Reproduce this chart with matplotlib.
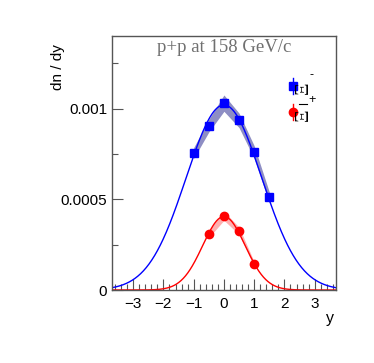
import numpy as np
import matplotlib
matplotlib.use("Agg")
import matplotlib.pyplot as plt
from matplotlib.ticker import MultipleLocator

plt.rcParams["font.family"] = ["Liberation Sans", "DejaVu Sans"]

# Xi- (blue squares)
y_xim = [-1.0, -0.5, 0.0, 0.5, 1.0, 1.5]
dn_xim = [0.000755, 0.000906, 0.00103, 0.000935, 0.00076, 0.00051]
band_xim = [0.000030, 0.000035, 0.000045, 0.000040, 0.000035, 0.000030]
# anti-Xi+ (red circles)
y_axi = [-0.5, 0.0, 0.5, 1.0]
dn_axi = [0.000309, 0.000409, 0.000326, 0.000144]
band_axi = [0.000020, 0.000025, 0.000020, 0.000012]
# gaussian fit parameters (amplitude, mean, sigma)
fit_xim = (0.00102, 0.0, 1.25)
fit_axi = (0.000405, 0.0, 0.70)

fig = plt.figure(figsize=(3.74, 3.63), dpi=100)
ax = fig.add_axes([0.2995, 0.2011, 0.5985, 0.6997])

xx = np.linspace(-3.7, 3.7, 400)
def gaus(p):
    a, m, s = p
    return a * np.exp(-0.5 * ((xx - m) / s) ** 2)

ax.fill_between(y_xim, np.array(dn_xim) - band_xim, np.array(dn_xim) + band_xim,
                color="#6868b0", alpha=0.75, lw=0, zorder=1)
ax.fill_between(y_axi, np.array(dn_axi) - band_axi, np.array(dn_axi) + band_axi,
                color="#ffa8a8", alpha=0.9, lw=0, zorder=1)
ax.plot(xx, gaus(fit_xim), color="#0000ff", lw=1.0, zorder=2)
ax.plot(xx, gaus(fit_axi), color="#ff0000", lw=1.0, zorder=2)
ax.plot(y_xim, dn_xim, "s", color="#0000ff", ms=6, zorder=3)
ax.plot(y_axi, dn_axi, "o", color="#ff0000", ms=6, zorder=3)

ax.set_xlim(-3.7, 3.7)
ax.set_ylim(0, 0.0014)
ax.set_yticks([0, 0.0005, 0.001])
ax.set_yticklabels(["0", "0.0005", "0.001"])
ax.yaxis.set_minor_locator(MultipleLocator(0.00025))
ax.xaxis.set_minor_locator(MultipleLocator(0.2))
ax.set_xticks([-3, -2, -1, 0, 1, 2, 3])
ax.set_xticklabels(["\u22123", "\u22122", "\u22121", "0", "1", "2", "3"])
ax.tick_params(which="both", direction="in", labelsize=11, labelcolor="black")
ax.tick_params(which="major", length=8, width=0.8, color="#555555")
ax.tick_params(which="minor", length=4, width=0.8, color="#555555")
ax.tick_params(axis="x", pad=5)
for sp in ax.spines.values():
    sp.set_color("#555555")
    sp.set_linewidth(1.0)

ax.text(0.5, 0.953, "p+p at 158 GeV/c", transform=ax.transAxes, ha="center", va="center",
        fontsize=13.5, color="#707070", family="Liberation Serif")
fig.text(58 / 374, 1 - 44 / 363, "dn / dy", rotation=90, ha="center", va="top", fontsize=11)
fig.text(330 / 374, 1 - 318 / 363, "y", ha="center", va="center", fontsize=11.5)

# legend drawn by hand (rotated glyphs as in the original)
lx = 293 / 374
fig.lines.append(plt.Line2D([lx, lx], [1 - 78 / 363, 1 - 94 / 363], color="#0000ff", lw=1,
                            transform=fig.transFigure))
fig.lines.append(plt.Line2D([lx], [1 - 86 / 363], marker="s", ms=6, color="#0000ff",
                            transform=fig.transFigure))
fig.lines.append(plt.Line2D([lx, lx], [1 - 104 / 363, 1 - 120 / 363], color="#ff0000", lw=1,
                            transform=fig.transFigure))
fig.lines.append(plt.Line2D([lx], [1 - 112 / 363], marker="o", ms=6, color="#ff0000",
                            transform=fig.transFigure))
fig.text(303 / 374, 1 - 88 / 363, "\u039e", rotation=90, ha="center", va="center",
         fontsize=14, family="Liberation Serif")
fig.text(312 / 374, 1 - 75 / 363, "-", ha="center", va="center", fontsize=9)
fig.text(303 / 374, 1 - 115 / 363, "\u039e", rotation=90, ha="center", va="center",
         fontsize=14, family="Liberation Serif")
fig.lines.append(plt.Line2D([299 / 374, 307 / 374], [1 - 104 / 363, 1 - 104 / 363],
                            color="black", lw=0.8, transform=fig.transFigure))
fig.text(312 / 374, 1 - 100 / 363, "+", ha="center", va="center", fontsize=9)

fig.savefig("out.png", dpi=100)
